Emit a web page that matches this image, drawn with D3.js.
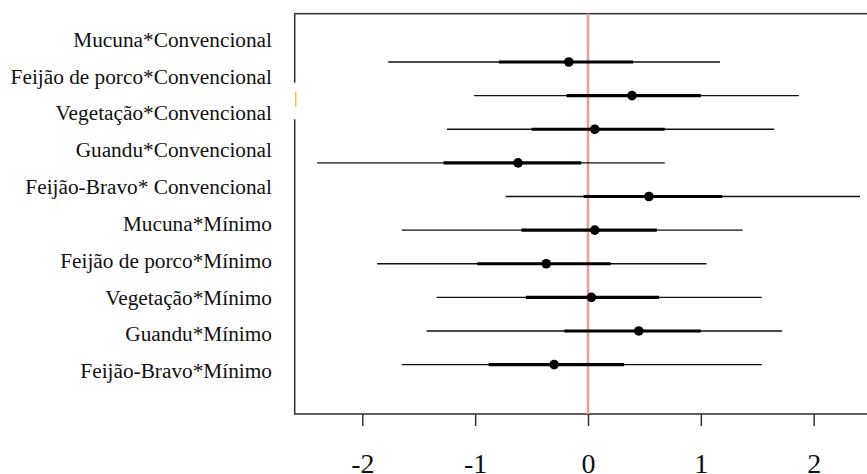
<!DOCTYPE html>
<html>
<head>
<meta charset="utf-8">
<script src="https://cdn.jsdelivr.net/npm/d3@7"></script>
<style>
  html, body { margin: 0; padding: 0; background: #fff; }
  svg { display: block; }
  text { font-family: "Liberation Serif", "Times New Roman", serif; fill: #111; }
</style>
</head>
<body>
<svg id="chart" width="867" height="474"></svg>
<script>
// Interaction terms (cover crop * tillage system)
const terms = [
  "Mucuna*Convencional",
  "Feijão de porco*Convencional",
  "Vegetação*Convencional",
  "Guandu*Convencional",
  "Feijão-Bravo* Convencional",
  "Mucuna*Mínimo",
  "Feijão de porco*Mínimo",
  "Vegetação*Mínimo",
  "Guandu*Mínimo",
  "Feijão-Bravo*Mínimo"
];
// Point estimates
const estimate = [-0.17, 0.39, 0.06, -0.62, 0.54, 0.06, -0.37, 0.03, 0.45, -0.30];
// Inner (thick) interval
const innerLow  = [-0.79, -0.19, -0.50, -1.28, -0.04, -0.59, -0.98, -0.55, -0.21, -0.88];
const innerHigh = [ 0.40,  1.00,  0.68, -0.06,  1.19,  0.61,  0.20,  0.63,  1.00,  0.32];
// Outer (thin) interval
const outerLow  = [-1.77, -1.01, -1.25, -2.40, -0.73, -1.65, -1.87, -1.34, -1.43, -1.65];
const outerHigh = [ 1.17,  1.87,  1.65,  0.68,  2.41,  1.37,  1.05,  1.54,  1.72,  1.54];
// Axis ticks
const xTicks = [-2, -1, 0, 1, 2];

const rows = terms.map((t, i) => ({
  term: t, est: estimate[i],
  lo1: innerLow[i], hi1: innerHigh[i],
  lo2: outerLow[i], hi2: outerHigh[i]
}));

const svg = d3.select("#chart");

const boxLeft = 294.7, boxTop = 13.7, boxBottom = 414, boxRight = 880;

const x = d3.scaleLinear().domain([-2, 2]).range([362.3, 813.7]);
const y = d3.scalePoint().domain(terms).range([62, 364.6]);
const yLab = d3.scalePoint().domain(terms).range([46.7, 378.3]);

// Frame
svg.append("rect")
  .attr("x", boxLeft).attr("y", boxTop)
  .attr("width", boxRight - boxLeft).attr("height", boxBottom - boxTop)
  .attr("fill", "none").attr("stroke", "#3a3a3a").attr("stroke-width", 1.6);

// Reference line at zero
svg.append("line")
  .attr("x1", x(0)).attr("x2", x(0))
  .attr("y1", boxTop).attr("y2", boxBottom)
  .attr("stroke", "#e6a0a0").attr("stroke-width", 2.6);

const g = svg.append("g");

// Outer intervals
g.selectAll("line.outer").data(rows).join("line")
  .attr("class", "outer")
  .attr("x1", d => x(d.lo2)).attr("x2", d => x(d.hi2))
  .attr("y1", d => y(d.term)).attr("y2", d => y(d.term))
  .attr("stroke", "#111").attr("stroke-width", 1.3);

// Inner intervals
g.selectAll("line.inner").data(rows).join("line")
  .attr("class", "inner")
  .attr("x1", d => x(d.lo1)).attr("x2", d => x(d.hi1))
  .attr("y1", d => y(d.term)).attr("y2", d => y(d.term))
  .attr("stroke", "#000").attr("stroke-width", 3.2);

// Estimates
g.selectAll("circle").data(rows).join("circle")
  .attr("cx", d => x(d.est)).attr("cy", d => y(d.term))
  .attr("r", 4.8).attr("fill", "#000");

// Term labels
svg.append("g").selectAll("text").data(terms).join("text")
  .attr("x", 272).attr("y", d => yLab(d))
  .attr("text-anchor", "end")
  .style("font-size", "21.3px")
  .text(d => d);

// Bottom axis
const axis = svg.append("g").attr("transform", `translate(0,${boxBottom})`)
  .call(d3.axisBottom(x).tickValues(xTicks).tickSize(12).tickPadding(30)
        .tickFormat(d => (d < 0 ? "-" + Math.abs(d) : String(d))));
axis.select(".domain").remove();
axis.selectAll(".tick line").attr("stroke", "#333").attr("stroke-width", 1.5);
axis.selectAll(".tick text")
  .attr("dy", null).attr("y", 59)
  .style("font-size", "28px")
  .style("font-family", "'Liberation Serif', 'Times New Roman', serif")
  .attr("fill", "#111");

// Small gap in the left frame edge with an orange mark
svg.append("rect")
  .attr("x", boxLeft - 2).attr("y", 82.7).attr("width", 4).attr("height", 36.6)
  .attr("fill", "#fff");
svg.append("line")
  .attr("x1", boxLeft + 1).attr("x2", boxLeft + 1)
  .attr("y1", 91.7).attr("y2", 106.7)
  .attr("stroke", "#f3bd4a").attr("stroke-width", 1.5);
</script>
</body>
</html>
